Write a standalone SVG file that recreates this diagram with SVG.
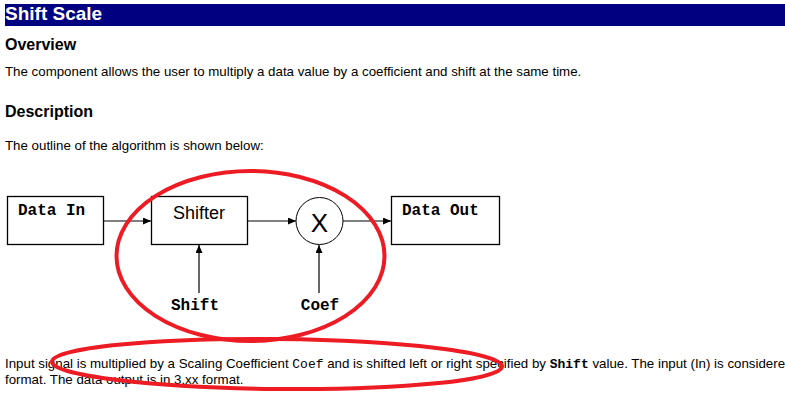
<svg xmlns="http://www.w3.org/2000/svg" width="785" height="400" viewBox="0 0 785 400">
<style>
.body{font-family:"Liberation Sans",Arial,sans-serif;font-size:13.3px;fill:#000}
.h{font-family:"Liberation Sans",Arial,sans-serif;font-size:16px;font-weight:bold;fill:#000}
.mono{font-family:"Liberation Mono","Courier New",monospace;font-size:16px;font-weight:bold;fill:#000}
.imono{font-family:"Liberation Mono","Courier New",monospace;font-size:13px}
.box{fill:#fff;stroke:#000;stroke-width:1.3}
.conn{stroke:#000;stroke-width:1.2;fill:none;marker-end:url(#arr)}
.red{fill:none;stroke:#ed1c24;stroke-width:4}
</style>
<defs>
<marker id="arr" markerUnits="userSpaceOnUse" markerWidth="9" markerHeight="8" refX="8" refY="3.5" orient="auto">
<path d="M0,0 L8,3.5 L0,7 z" fill="#000"/>
</marker>
</defs>
<rect width="785" height="400" fill="#fff"/>
<rect x="5" y="4" width="780" height="22" fill="#000080"/>
<text x="5" y="20" style="font-family:'Liberation Sans',Arial,sans-serif;font-size:19px;font-weight:bold;fill:#fff">Shift Scale</text>
<text class="h" x="5" y="50">Overview</text>
<text class="body" x="5" y="76">The component allows the user to multiply a data value by a coefficient and shift at the same time.</text>
<text class="h" x="5" y="117">Description</text>
<text class="body" x="5" y="150">The outline of the algorithm is shown below:</text>

<g id="connectors">
<line class="conn" x1="103" y1="221" x2="151" y2="221"/>
<line class="conn" x1="247" y1="221" x2="296" y2="221"/>
<line class="conn" x1="343" y1="221" x2="391" y2="221"/>
<line class="conn" x1="199" y1="293" x2="199" y2="245"/>
<line class="conn" x1="319" y1="293" x2="319" y2="245"/>
</g>

<g id="data-in">
<rect class="box" x="7.5" y="196.5" width="96" height="48"/>
<text class="mono" x="18" y="215">Data In</text>
</g>
<g id="shifter">
<rect class="box" x="151.5" y="196.5" width="96" height="48"/>
<text x="199" y="219" text-anchor="middle" style="font-family:'Liberation Sans',Arial,sans-serif;font-size:18px;fill:#000">Shifter</text>
</g>
<g id="multiplier">
<circle cx="319.5" cy="221" r="23.5" fill="#fff" stroke="#000" stroke-width="1"/>
<text x="319.5" y="232" text-anchor="middle" style="font-family:'Liberation Sans',Arial,sans-serif;font-size:26px;fill:#000">X</text>
</g>
<g id="data-out">
<rect class="box" x="391.5" y="196.5" width="108" height="48"/>
<text class="mono" x="402" y="215">Data Out</text>
</g>
<g id="shift-label">
<text class="mono" x="195" y="310" text-anchor="middle">Shift</text>
</g>
<g id="coef-label">
<text class="mono" x="320" y="310" text-anchor="middle">Coef</text>
</g>

<text class="body" x="5" y="368">Input signal is multiplied by a Scaling Coefficient <tspan class="imono">Coef</tspan> and is shifted left or right specified by <tspan class="imono" font-weight="bold">Shift</tspan> value. The input (In) is considered</text>
<text class="body" x="5" y="384">format. The data output is in 3.xx format.</text>

<ellipse class="red" cx="250.5" cy="256" rx="134" ry="85"/>
<ellipse class="red" cx="277" cy="364" rx="225" ry="25" transform="rotate(0.6 277 364)"/>
</svg>
